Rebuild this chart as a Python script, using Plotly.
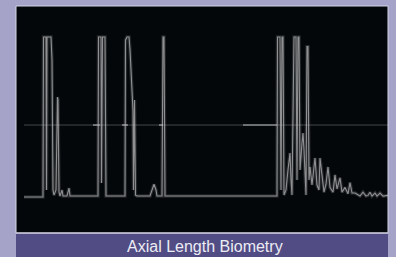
import plotly.graph_objects as go

# A-scan echo amplitude vs. sample depth
depth = [24, 43, 43.5, 46, 46.5, 47, 51, 52, 53, 54, 56, 57.5, 58, 59, 60, 62, 63, 67, 69, 70,
         98, 98.5, 101, 101.5, 102.5, 105, 106,
         125, 125.5, 127, 129, 130, 132, 133, 133.5, 134.5, 135.5, 137, 150, 153, 154, 156, 157,
         162, 163, 164, 165,
         277, 277.5, 280, 281, 282, 283, 284, 286, 288, 290, 291, 292, 294, 296, 297, 298, 299,
         300, 302, 303, 304, 305, 306, 307, 308, 309, 310, 312, 314, 315, 317, 319, 320, 322,
         324, 326, 328, 330, 333, 335, 337, 340, 342, 345, 348, 350, 352, 355, 358, 360, 363,
         366, 368, 370, 372, 375, 377, 380, 383, 386, 388]
amplitude = [0, 0, 100, 100, 4.4, 100, 100, 85.6, 4.4, 1.2, 4.4, 62.5, 60.6, 3, 0.6, 4.4, 0.6, 0.6, 5.6, 0.6,
             0.6, 100, 100, 8.8, 100, 100, 0.6,
             0.6, 98, 100, 100, 92, 63.7, 54, 4.4, 60.6, 1.2, 0.6, 0.6, 5.6, 8, 4.4, 0.6,
             0.6, 100, 100, 0.6,
             0.6, 100, 100, 4.4, 100, 100, 1.2, 4.4, 16.9, 27.5, 10.6, 1.2, 100, 100, 10.6, 100, 100,
             16.9, 33.8, 40, 29.4, 13.8, 1.2, 94, 94, 10.6, 18.8, 7.5, 20, 24.4, 7.5, 4.4, 24.4, 12.5,
             3, 8, 18.8, 6, 3, 13.8, 5, 12, 3, 6, 2, 9, 2.5, 2.5, 1, 0.6, 3,
             0.6, 1, 3, 0.6, 2.5, 0.6, 2.5, 0.6, 1, 1]

gate_level = 45
gate_span = [24, 388]
gate_bright = [[93, 100], [122, 128], [159, 163], [243, 277]]

title_text = "Axial Length Biometry"

W, H = 396, 257
px0, px1 = 16, 388
py_top, py_bot = 6, 233

fig = go.Figure()

# gate line
fig.add_trace(go.Scatter(x=gate_span, y=[gate_level, gate_level], mode="lines",
                         line=dict(color="rgba(150,150,155,0.45)", width=1),
                         hoverinfo="skip", showlegend=False))
for seg in gate_bright:
    fig.add_trace(go.Scatter(x=seg, y=[gate_level, gate_level], mode="lines",
                             line=dict(color="rgba(200,200,200,0.6)", width=1.6),
                             hoverinfo="skip", showlegend=False))

# glow + echo trace
fig.add_trace(go.Scatter(x=depth, y=amplitude, mode="lines",
                         line=dict(color="rgba(170,170,170,0.2)", width=3.5),
                         hoverinfo="skip", showlegend=False))
fig.add_trace(go.Scatter(x=depth, y=amplitude, mode="lines",
                         line=dict(color="rgba(190,190,190,0.7)", width=1.1),
                         showlegend=False))

fig.update_layout(
    width=W, height=H,
    margin=dict(l=0, r=0, t=0, b=0),
    paper_bgcolor="#a5a3c7",
    plot_bgcolor="#03070a",
    xaxis=dict(domain=[px0 / W, px1 / W], range=[px0, px1], visible=False, fixedrange=True),
    yaxis=dict(domain=[(H - py_bot) / H, (H - py_top) / H], range=[-22.5, 119.4],
               visible=False, fixedrange=True),
    shapes=[
        dict(type="rect", xref="paper", yref="paper",
             x0=px0 / W, x1=px1 / W, y0=0, y1=(H - py_bot) / H,
             fillcolor="#524c85", line=dict(width=0), layer="below"),
        dict(type="line", xref="paper", yref="paper",
             x0=px0 / W, x1=px1 / W, y0=(H - py_bot) / H, y1=(H - py_bot) / H,
             line=dict(color="#e6e6f0", width=1)),
        dict(type="rect", xref="paper", yref="paper",
             x0=px0 / W, x1=px1 / W, y0=(H - py_bot) / H, y1=(H - py_top) / H,
             line=dict(color="#d4d4e4", width=1), fillcolor="rgba(0,0,0,0)"),
    ],
    annotations=[
        dict(text=title_text, xref="paper", yref="paper", x=204.5 / W, y=(H - 246) / H,
             xanchor="center", yanchor="middle", showarrow=False,
             font=dict(family="Liberation Sans, Arial, sans-serif", size=16, color="#ececf4")),
    ],
)

fig.write_html("out.html", config={"displayModeBar": False},
               post_script="document.body.style.margin='0';document.body.style.overflow='hidden';")
